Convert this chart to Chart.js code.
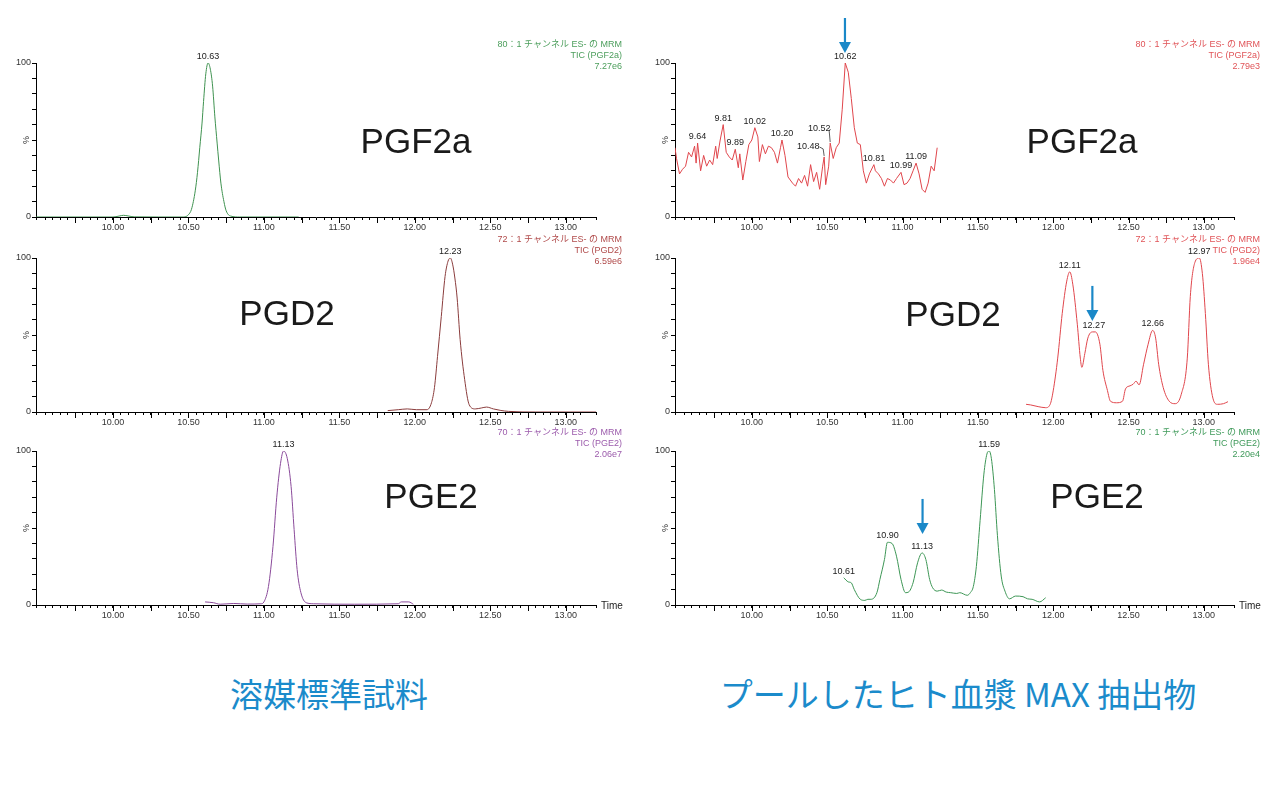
<!DOCTYPE html>
<html lang="ja">
<head>
<meta charset="utf-8">
<title>PG chromatograms</title>
<script src="https://cdn.jsdelivr.net/npm/chart.js@4.4.1/dist/chart.umd.min.js"></script>
<style>
  html, body { margin: 0; padding: 0; background: #fff; }
  #page { position: relative; width: 1280px; height: 796px; overflow: hidden; background: #fff; }
  #page canvas { position: absolute; }
  .caption {
    position: absolute; top: 672px; line-height: 42px;
    color: #1b8bcb; font-family: "Noto Sans CJK JP", sans-serif; font-size: 33px;
    white-space: nowrap; transform: translateX(-50%);
  }
</style>
</head>
<body>
<div id="page">
  <canvas id="c0" width="640" height="231" style="left:0;top:8px"></canvas>
  <canvas id="c1" width="640" height="231" style="left:0;top:203px"></canvas>
  <canvas id="c2" width="640" height="231" style="left:0;top:396px"></canvas>
  <canvas id="c3" width="640" height="231" style="left:640px;top:8px"></canvas>
  <canvas id="c4" width="640" height="231" style="left:640px;top:203px"></canvas>
  <canvas id="c5" width="640" height="231" style="left:640px;top:396px"></canvas>
  <div class="caption" style="left:329px">溶媒標準試料</div>
  <div class="caption" style="left:958px">プールしたヒト血漿 MAX 抽出物</div>
</div>
<script>
// axis
const xMin = 9.49, xMax = 13.2;
const xLabelTimes = [10.0, 10.5, 11.0, 11.5, 12.0, 12.5, 13.0];
const yLabelValues = [0, 100];

// solvent standard, PGF2a
const stdF2aTime = [9.49, 9.80, 10.00, 10.04, 10.07, 10.10, 10.14, 10.30, 10.47, 10.50, 10.52, 10.545, 10.56, 10.575, 10.59, 10.60, 10.615, 10.63, 10.645, 10.66, 10.675, 10.69, 10.70, 10.715, 10.735, 10.75, 10.78, 10.84, 11.00, 11.23];
const stdF2aPct = [0, 0, 0, 0.6, 1.1, 0.7, 0.1, 0, 0, 1.5, 5, 17, 29, 45, 61, 75, 93, 100, 96, 85, 65, 48, 37, 22, 10, 4, 0.6, 0, 0, 0];
const stdF2aPeakText = ['10.63'];
const stdF2aPeakTime = [10.63];
const stdF2aPeakPct = [100];
const stdF2aHeader = ['80：1 チャンネル ES- の MRM', 'TIC (PGF2a)', '7.27e6'];

// solvent standard, PGD2
const stdD2Time = [11.82, 11.89, 11.95, 12.01, 12.08, 12.11, 12.13, 12.15, 12.175, 12.20, 12.22, 12.235, 12.25, 12.265, 12.28, 12.30, 12.33, 12.36, 12.40, 12.44, 12.475, 12.52, 12.57, 12.62, 12.80, 13.00, 13.20];
const stdD2Pct = [0.9, 1.5, 2, 1.5, 1.5, 6, 16, 36, 62, 88, 98, 100, 96, 87, 74, 47, 21, 4.7, 2, 2.6, 3.2, 2, 1, 0.4, 0, 0, 0];
const stdD2PeakText = ['12.23'];
const stdD2PeakTime = [12.235];
const stdD2PeakPct = [100];
const stdD2Header = ['72：1 チャンネル ES- の MRM', 'TIC (PGD2)', '6.59e6'];

// solvent standard, PGE2
const stdE2Time = [10.61, 10.665, 10.71, 10.80, 10.89, 10.98, 11.00, 11.03, 11.06, 11.085, 11.11, 11.13, 11.155, 11.18, 11.20, 11.22, 11.245, 11.28, 11.33, 11.60, 11.89, 11.91, 11.96, 11.99];
const stdE2Pct = [2, 1.5, 0.5, 1, 0.6, 0.8, 2, 12, 38, 70, 92, 100, 95, 77, 49, 23, 8, 1.5, 0.8, 0.5, 0.8, 2, 2, 0.5];
const stdE2PeakText = ['11.13'];
const stdE2PeakTime = [11.13];
const stdE2PeakPct = [100];
const stdE2Header = ['70：1 チャンネル ES- の MRM', 'TIC (PGE2)', '2.06e7'];

// pooled plasma MAX extract, PGF2a
const plsF2aTime = [9.49, 9.50, 9.52, 9.54, 9.56, 9.58, 9.60, 9.62, 9.63, 9.64, 9.66, 9.68, 9.70, 9.72, 9.74, 9.76, 9.77, 9.79, 9.81, 9.83, 9.85, 9.87, 9.89, 9.91, 9.92, 9.94, 9.96, 9.98, 10.00, 10.02, 10.04, 10.05, 10.07, 10.09, 10.11, 10.13, 10.15, 10.17, 10.19, 10.20, 10.22, 10.24, 10.27, 10.29, 10.31, 10.33, 10.35, 10.37, 10.39, 10.41, 10.43, 10.45, 10.47, 10.48, 10.49, 10.51, 10.52, 10.54, 10.56, 10.58, 10.60, 10.62, 10.64, 10.66, 10.68, 10.70, 10.72, 10.74, 10.76, 10.78, 10.81, 10.82, 10.84, 10.86, 10.88, 10.90, 10.92, 10.94, 10.96, 10.99, 11.01, 11.03, 11.05, 11.07, 11.09, 11.11, 11.13, 11.15, 11.17, 11.19, 11.21, 11.23];
const plsF2aPct = [45, 38, 28, 31, 33, 42, 39, 46, 35, 48, 30, 40, 33, 37, 34, 46, 38, 50, 60, 42, 39, 37, 44, 32, 41, 24, 36, 47, 50, 58, 52, 36, 47, 41, 46, 45, 42, 35, 45, 50, 40, 26, 22, 20, 25, 22, 27, 20, 34, 23, 29, 18, 33, 39, 21, 33, 48, 38, 45, 48, 70, 100, 94, 77, 58, 48, 47, 30, 22, 28, 34, 30, 28, 25, 20, 25, 24, 22, 25, 29, 21, 22, 25, 30, 35, 28, 18, 16, 22, 33, 30, 45];
const plsF2aPeakText = ['9.64', '9.81', '9.89', '10.02', '10.20', '10.48', '10.52', '10.62', '10.81', '10.99', '11.09'];
const plsF2aPeakTime = [9.64, 9.81, 9.89, 10.02, 10.20, 10.48, 10.52, 10.62, 10.81, 10.99, 11.09];
const plsF2aPeakPct = [48, 60, 44, 58, 50, 39, 48, 100, 34, 29, 35];
const plsF2aHeader = ['80：1 チャンネル ES- の MRM', 'TIC (PGF2a)', '2.79e3'];

// pooled plasma MAX extract, PGD2
const plsD2Time = [11.82, 11.85, 11.90, 11.95, 11.98, 12.00, 12.03, 12.06, 12.09, 12.11, 12.13, 12.16, 12.18, 12.19, 12.21, 12.23, 12.26, 12.28, 12.31, 12.33, 12.36, 12.38, 12.42, 12.46, 12.48, 12.51, 12.53, 12.55, 12.57, 12.60, 12.63, 12.66, 12.68, 12.70, 12.73, 12.77, 12.81, 12.85, 12.89, 12.91, 12.94, 12.97, 12.99, 13.01, 13.03, 13.06, 13.09, 13.13, 13.16];
const plsD2Pct = [5, 4.6, 3.5, 2.8, 5, 13.7, 35, 64, 85, 91, 83, 57, 35, 29, 38, 48, 52, 52, 44, 27, 14, 7, 6, 7, 15, 17, 18, 20, 17.6, 31, 44, 53, 48, 31, 16, 7, 5.4, 11.5, 35, 75, 97, 100, 90, 64, 31, 9, 5, 5.4, 6.7];
const plsD2PeakText = ['12.11', '12.27', '12.66', '12.97'];
const plsD2PeakTime = [12.11, 12.27, 12.66, 12.97];
const plsD2PeakPct = [91, 52, 53, 100];
const plsD2Header = ['72：1 チャンネル ES- の MRM', 'TIC (PGD2)', '1.96e4'];

// pooled plasma MAX extract, PGE2
const plsE2Time = [10.61, 10.64, 10.66, 10.68, 10.72, 10.75, 10.77, 10.79, 10.83, 10.85, 10.88, 10.90, 10.93, 10.96, 10.99, 11.02, 11.04, 11.07, 11.10, 11.13, 11.155, 11.18, 11.20, 11.23, 11.26, 11.29, 11.32, 11.36, 11.38, 11.43, 11.45, 11.47, 11.49, 11.515, 11.54, 11.56, 11.575, 11.59, 11.61, 11.63, 11.655, 11.68, 11.71, 11.75, 11.80, 11.83, 11.86, 11.91, 11.95];
const plsE2Pct = [17.7, 15, 14.4, 10, 3.7, 3, 3.7, 3.7, 8, 16.6, 29.5, 40.7, 40, 31.7, 16.6, 8, 8.4, 14.4, 27.4, 33.8, 29.5, 16.6, 11.2, 9, 9.7, 8.4, 8, 7.5, 8, 6.3, 8, 12, 25, 55, 85, 98, 100, 95, 75, 45, 18.8, 9, 4, 5.8, 5.4, 4, 3.7, 2, 4.7];
const plsE2PeakText = ['10.61', '10.90', '11.13', '11.59'];
const plsE2PeakTime = [10.61, 10.90, 11.13, 11.575];
const plsE2PeakPct = [17.7, 40.7, 33.8, 100];
const plsE2Header = ['70：1 チャンネル ES- の MRM', 'TIC (PGE2)', '2.20e4'];

const FONT = '"Liberation Sans", Arial, "Noto Sans CJK JP", sans-serif';

// labels that sit beside their peak with a short leader line (pixel offsets)
const labelNudge = { '10.48': [-16, -6], '10.52': [-11, -10] };

const panels = [
  { id: 'c0', top: 8, left: 0, axisW: 36, padR: 44, line: '#3f9250', text: '#4c9e5c', name: 'PGF2a', nameX: 416, nameY: 153,
    time: stdF2aTime, pct: stdF2aPct, pkText: stdF2aPeakText, pkTime: stdF2aPeakTime, pkPct: stdF2aPeakPct, header: stdF2aHeader, smooth: true },
  { id: 'c1', top: 203, left: 0, axisW: 36, padR: 44, line: '#8a3c3c', text: '#b04a4a', name: 'PGD2', nameX: 287, nameY: 325,
    time: stdD2Time, pct: stdD2Pct, pkText: stdD2PeakText, pkTime: stdD2PeakTime, pkPct: stdD2PeakPct, header: stdD2Header, smooth: true },
  { id: 'c2', top: 396, left: 0, axisW: 36, padR: 44, line: '#8a4a9a', text: '#9c5cac', name: 'PGE2', nameX: 431, nameY: 508,
    time: stdE2Time, pct: stdE2Pct, pkText: stdE2PeakText, pkTime: stdE2PeakTime, pkPct: stdE2PeakPct, header: stdE2Header, smooth: true, timeLabel: true },
  { id: 'c3', top: 8, left: 640, axisW: 35, padR: 46, line: '#e0464c', text: '#e05458', name: 'PGF2a', nameX: 1082, nameY: 153,
    time: plsF2aTime, pct: plsF2aPct, pkText: plsF2aPeakText, pkTime: plsF2aPeakTime, pkPct: plsF2aPeakPct, header: plsF2aHeader, smooth: false,
    arrow: { time: 10.618, pct: 100, gap: 10 } },
  { id: 'c4', top: 203, left: 640, axisW: 35, padR: 46, line: '#e0464c', text: '#e05458', name: 'PGD2', nameX: 953, nameY: 326,
    time: plsD2Time, pct: plsD2Pct, pkText: plsD2PeakText, pkTime: plsD2PeakTime, pkPct: plsD2PeakPct, header: plsD2Header, smooth: true,
    arrow: { time: 12.26, pct: 52, gap: 11 } },
  { id: 'c5', top: 396, left: 640, axisW: 35, padR: 46, line: '#3d9655', text: '#3f9a5a', name: 'PGE2', nameX: 1097, nameY: 508,
    time: plsE2Time, pct: plsE2Pct, pkText: plsE2PeakText, pkTime: plsE2PeakTime, pkPct: plsE2PeakPct, header: plsE2Header, smooth: true, timeLabel: true,
    arrow: { time: 11.133, pct: 33.8, gap: 19 } }
];

const decorations = {
  id: 'decorations',
  afterDatasetsDraw(chart, args, p) {
    const { ctx, chartArea: area, scales: { x, y } } = chart;
    ctx.save();

    // longer ticks every 0.25 min
    ctx.strokeStyle = '#000';
    ctx.lineWidth = 1;
    ctx.beginPath();
    x.ticks.forEach(tk => {
      const q = tk.value * 4;
      if (Math.abs(q - Math.round(q)) < 1e-6) {
        const px = Math.round(x.getPixelForValue(tk.value)) + 0.5;
        ctx.moveTo(px, area.bottom);
        ctx.lineTo(px, area.bottom + 6);
      }
    });
    ctx.stroke();

    // peak labels
    ctx.font = '9px ' + FONT;
    ctx.fillStyle = '#222';
    ctx.textAlign = 'center';
    ctx.textBaseline = 'bottom';
    p.pkTime.forEach((t, i) => {
      const px = x.getPixelForValue(t), py = y.getPixelForValue(p.pkPct[i]);
      const txt = p.pkText[i];
      const n = labelNudge[txt];
      if (n) {
        const tx = px + n[0], ty = py + n[1];
        ctx.fillText(txt, tx, ty);
        const w = ctx.measureText(txt).width;
        ctx.strokeStyle = '#333';
        ctx.lineWidth = 0.8;
        ctx.beginPath();
        ctx.moveTo(tx + w / 2, ty - 4);
        ctx.lineTo(px - 1, ty - 2);
        ctx.lineTo(px, py - 1);
        ctx.stroke();
      } else {
        ctx.fillText(txt, px, py - 2);
      }
    });

    // '%' on the y axis
    ctx.save();
    ctx.translate(area.left - 9, y.getPixelForValue(50));
    ctx.rotate(-Math.PI / 2);
    ctx.textBaseline = 'middle';
    ctx.fillStyle = '#333';
    ctx.fillText('%', 0, 0);
    ctx.restore();

    // header at top right
    ctx.font = '9px ' + FONT;
    ctx.fillStyle = p.text;
    ctx.textAlign = 'right';
    ctx.textBaseline = 'middle';
    const hx = area.right + 26;
    [-18, -7, 3.5].forEach((dy, i) => ctx.fillText(p.header[i], hx, area.top + dy));

    // compound name
    ctx.font = '35px ' + FONT;
    ctx.fillStyle = '#1a1a1a';
    ctx.textAlign = 'center';
    ctx.textBaseline = 'alphabetic';
    ctx.fillText(p.name, p.nameX - p.left, p.nameY - p.top);

    if (p.timeLabel) {
      ctx.font = '10px ' + FONT;
      ctx.fillStyle = '#222';
      ctx.textAlign = 'left';
      ctx.textBaseline = 'middle';
      ctx.fillText('Time', area.right + 5, area.bottom + 1);
    }

    // blue arrow pointing down at the peak of interest
    if (p.arrow) {
      const ax = x.getPixelForValue(p.arrow.time);
      const tip = y.getPixelForValue(p.arrow.pct) - p.arrow.gap;
      ctx.fillStyle = '#1a88c8';
      ctx.strokeStyle = '#1a88c8';
      ctx.lineWidth = 2.2;
      ctx.beginPath();
      ctx.moveTo(ax, tip - 35);
      ctx.lineTo(ax, tip - 9);
      ctx.stroke();
      ctx.beginPath();
      ctx.moveTo(ax - 6, tip - 11);
      ctx.lineTo(ax + 6, tip - 11);
      ctx.lineTo(ax, tip);
      ctx.closePath();
      ctx.fill();
    }
    ctx.restore();
  }
};

function isLabelTime(v) {
  return xLabelTimes.some(t => Math.abs(t - v) < 1e-6);
}

panels.forEach(p => {
  const ctx = document.getElementById(p.id).getContext('2d');
  new Chart(ctx, {
    type: 'line',
    data: {
      datasets: [{
        data: p.time.map((t, i) => ({ x: t, y: p.pct[i] })),
        borderColor: p.line,
        borderWidth: 1,
        pointRadius: 0,
        fill: false,
        cubicInterpolationMode: p.smooth ? 'monotone' : 'default',
        tension: p.smooth ? 0.4 : 0
      }]
    },
    options: {
      responsive: false,
      animation: false,
      events: [],
      layout: { padding: { top: 55, left: 0, right: p.padR, bottom: 0 } },
      plugins: {
        legend: { display: false },
        tooltip: { enabled: false },
        decorations: p
      },
      scales: {
        x: {
          type: 'linear',
          min: xMin,
          max: xMax,
          afterFit: s => { s.height = 22; },
          border: { color: '#000', width: 1 },
          grid: { drawOnChartArea: false, drawTicks: true, tickLength: 3, color: '#000' },
          ticks: {
            stepSize: 0.05,
            autoSkip: false,
            maxRotation: 0,
            padding: 2,
            color: '#333',
            font: { size: 9, family: FONT },
            callback: v => isLabelTime(v) ? v.toFixed(2) : ''
          }
        },
        y: {
          min: 0,
          max: 100,
          afterFit: s => { s.width = p.axisW; },
          border: { color: '#000', width: 1 },
          grid: { drawOnChartArea: false, drawTicks: true, tickLength: 4, color: '#000' },
          ticks: {
            stepSize: 10,
            autoSkip: false,
            padding: 1,
            color: '#333',
            font: { size: 9, family: FONT },
            callback: v => yLabelValues.includes(v) ? String(v) : ''
          }
        }
      }
    },
    plugins: [decorations]
  });
});
</script>
</body>
</html>
